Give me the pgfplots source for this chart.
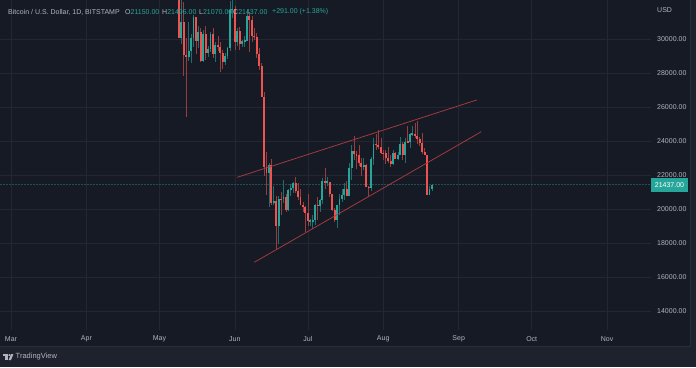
\documentclass[border=0pt]{standalone}
\usepackage{fontspec}
\setmainfont{Liberation Sans}
\usepackage{pgfplots}
\usepackage{pgfplotstable}
\pgfplotsset{compat=1.18}
\definecolor{outerbg}{HTML}{1E222D}
\definecolor{panelbg}{HTML}{161A25}
\definecolor{gridc}{HTML}{232733}
\definecolor{borderc}{HTML}{2A2E39}
\definecolor{txt}{HTML}{B2B5BE}
\definecolor{upc}{HTML}{26A69A}
\definecolor{dnc}{HTML}{EF5350}
\definecolor{trendc}{HTML}{A83B40}

% day index: 0 = 1 March 2022
\pgfplotstableread{
d o h l c
70 30080 32650 29730 31020
73 28940 30980 28700 29290
74 29290 30290 28590 30080
75 30080 31400 29500 31310
77 29860 30760 29470 30420
79 28700 30500 28660 30300
81 29190 29600 28950 29430
82 29430 30430 29240 30290
84 29100 29800 28630 29650
88 28620 29170 28470 29020
89 29020 29540 28850 29450
90 29450 32220 29320 31720
91 31720 32380 31230 31790
93 29800 30630 29600 30470
95 29700 29950 29520 29860
96 29860 30170 29500 29910
97 29910 31740 29900 31370
106 22130 22700 20090 22580
108 20380 21330 20250 20470
110 19000 20780 17950 20580
112 20560 21700 20360 20700
114 19970 21190 19900 21090
115 21090 21480 20750 21230
116 21230 21570 20950 21500
123 19290 19420 18980 19300
124 19300 19650 18800 19330
125 19330 20300 19070 20230
127 20190 20600 19800 20550
128 20550 21820 20280 21630
130 21590 21900 21340 21600
134 19330 20250 18900 20230
135 20230 20870 19650 20590
136 20590 21200 20400 20830
137 20830 21550 20500 21190
139 20790 22700 20770 22430
140 22430 23740 21700 23400
145 22450 23000 22300 22580
148 21250 23050 21050 22950
149 22950 24200 22600 23850
157 22620 23450 22590 23310
159 22960 23380 22860 23180
160 23180 24230 23160 23810
162 23160 24200 22700 23950
164 23940 24450 23600 24400
165 24400 24890 24300 24440
172 20830 21380 20800 21150
173 21150 21496 21070 21437
}\btcup

\pgfplotstableread{
d o h l c
69 34060 34240 30030 30080
71 31020 32150 27800 29040
72 29040 30040 25400 28940
76 31310 31310 29110 29860
78 30420 30660 28660 28700
80 30300 30750 28740 29190
83 30290 30660 28900 29100
85 29650 30200 29300 29540
86 29540 29850 28050 29200
87 29200 29380 28260 28620
92 31790 31960 29350 29800
94 30470 30680 29340 29700
98 31370 31560 29220 31130
99 31130 31330 29850 30200
100 30200 30660 29960 30110
101 30110 30380 28880 29090
102 29090 29450 28170 28420
103 28420 28560 26560 26580
104 26580 26890 21920 22480
105 22480 23340 20840 22130
107 22580 22970 20250 20380
109 20470 20750 17600 19000
111 20580 21000 19640 20560
113 20700 20870 19800 19970
117 21500 21860 20950 21030
118 21030 21500 20520 20730
119 20730 21190 20210 20250
120 20250 20400 19850 20100
121 20100 20160 18630 19780
122 19780 20870 18980 19290
126 20230 20700 19330 20190
129 21630 22400 21200 21590
131 21600 21600 20700 20860
132 20860 20860 19900 19970
133 19970 20040 19260 19330
138 21190 21650 20770 20790
141 23400 24270 22910 23230
142 23230 23430 22360 23160
143 23160 23750 22500 22680
144 22680 22990 21950 22450
146 22580 22650 21300 21310
147 21310 21340 20720 21250
150 23850 24400 23450 23780
151 23780 24650 23500 23640
152 23640 24180 23230 23300
153 23300 23480 22870 23270
154 23270 23460 22660 22990
155 22990 23640 22710 22820
156 22820 23200 22450 22620
158 23310 23350 22930 22960
161 23810 23930 22880 23160
163 23950 24900 23920 23940
166 24440 25050 24150 24300
167 24300 25200 23800 24100
168 24100 24240 23700 23860
169 23860 24450 23210 23340
170 23340 23600 23180 23200
171 23200 23200 20800 20830
}\btcdown

\begin{document}
\begin{tikzpicture}[x=1pt,y=1pt]
\useasboundingbox (0,0) rectangle (696,367);
\fill[outerbg] (0,0) rectangle (696,367);
\fill[panelbg] (0,21) rectangle (690,367);
\draw[borderc, line width=0.8pt] (0,21) -- (690,21) -- (690,367);

\begin{axis}[
  at={(0pt,37pt)}, anchor=south west,
  width=651pt, height=330pt, scale only axis,
  xmin=-4.52, xmax=263.05, ymin=12882, ymax=32294,
  axis line style={draw=none},
  major tick length=0pt,
  xtick={0,31,61,92,122,153,184,214,245},
  ytick={14000,16000,18000,20000,22000,24000,26000,28000,30000},
  xticklabels={}, yticklabels={},
  grid=major, grid style={color=gridc, line width=0.6pt},
  clip=true,
]
% price line
\addplot[upc, line width=0.5pt, dash pattern=on 1.5pt off 1.5pt, opacity=0.4] coordinates {(-4.52,21437) (263.05,21437)};
% wicks
\addplot[draw=none, mark=none, error bars/.cd, y dir=both, y explicit, error mark=none,
  error bar style={draw=upc!60!panelbg, line width=0.6pt}]
  table[x=d, y expr={(\thisrow{h}+\thisrow{l})/2}, y error expr={(\thisrow{h}-\thisrow{l})/2}] {\btcup};
\addplot[draw=none, mark=none, error bars/.cd, y dir=both, y explicit, error mark=none,
  error bar style={draw=dnc!60!panelbg, line width=0.6pt}]
  table[x=d, y expr={(\thisrow{h}+\thisrow{l})/2}, y error expr={(\thisrow{h}-\thisrow{l})/2}] {\btcdown};
% bodies
\addplot[draw=none, mark=none, error bars/.cd, y dir=both, y explicit, error mark=none,
  error bar style={draw=upc, line width=1.9pt}]
  table[x=d, y expr={(\thisrow{o}+\thisrow{c})/2}, y error expr={max(abs(\thisrow{c}-\thisrow{o})/2,30)}] {\btcup};
\addplot[draw=none, mark=none, error bars/.cd, y dir=both, y explicit, error mark=none,
  error bar style={draw=dnc, line width=1.9pt}]
  table[x=d, y expr={(\thisrow{o}+\thisrow{c})/2}, y error expr={max(abs(\thisrow{c}-\thisrow{o})/2,30)}] {\btcdown};
% trend lines
\addplot[trendc, line width=0.75pt] coordinates {(93.0,21865) (191.4,26412)};
\addplot[trendc, line width=0.75pt] coordinates {(100.0,16865) (193.3,24547)};
\end{axis}

% price axis labels
\begin{scope}[every node/.style={font=\fontsize{7}{8}\selectfont, text=txt, anchor=west, inner sep=0pt}]
\node at (657,357) {USD};
\foreach \p/\yy in {30000/328,28000/294,26000/260,24000/226,22000/192,20000/158,18000/124,16000/90,14000/56}
  \node at (657,\yy) {\p.00};
\end{scope}
% last price tag
\fill[upc] (651,174.5) rectangle (688,188.5);
\node[font=\fontsize{7}{8}\selectfont, text=white, inner sep=0pt] at (669.5,181.5) {21437.00};

% time axis labels
\begin{scope}[every node/.style={font=\fontsize{7}{8}\selectfont, text=txt, inner sep=0pt}]
\foreach \m/\xx in {Mar/11,Apr/86.4,May/159.4,Jun/234.8,Jul/307.8,Aug/383.2,Sep/458.7,Oct/531.7,Nov/607.1}
  \node at (\xx,28) {\m};
\end{scope}

% title line
\begin{scope}[every node/.style={font=\fontsize{7}{8}\selectfont, inner sep=0pt, anchor=west}]
\node[text=txt] at (8,355) {Bitcoin / U.S. Dollar, 1D, BITSTAMP};
\node at (125,355) {\textcolor{txt}{O}\textcolor{upc}{21150.00}};
\node at (162,355) {\textcolor{txt}{H}\textcolor{upc}{21496.00}};
\node at (199,355) {\textcolor{txt}{L}\textcolor{upc}{21070.00}};
\node at (233,355) {\textcolor{txt}{C}\textcolor{upc}{21437.00}};
\node[text=upc] at (272,355) {+291.00 (+1.38\%)};
\end{scope}

% TradingView logo
\fill[txt] (3,10.6) rectangle (7.6,13);
\fill[txt] (5.3,7) rectangle (7.6,13);
\fill[txt] (9.3,11.9) circle (1.1);
\fill[txt] (11.0,13) -- (13.4,13) -- (11.0,7) -- (8.6,7) -- cycle;
\node[font=\fontsize{7.5}{9}\selectfont, text=txt, anchor=west, inner sep=0pt] at (15.5,10) {TradingView};
\end{tikzpicture}
\end{document}
